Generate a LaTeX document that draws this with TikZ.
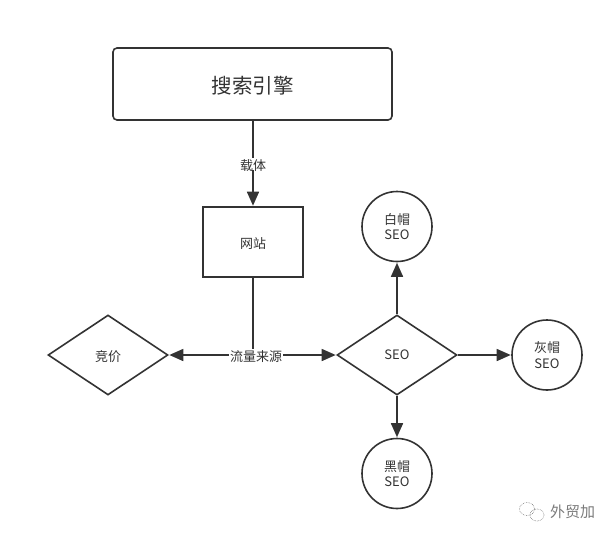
\documentclass[tikz,border=0pt]{standalone}
\usepackage{fontspec}
\setmainfont{Noto Sans CJK SC}
\usetikzlibrary{shapes.geometric,arrows.meta}
\definecolor{ink}{HTML}{333333}
\definecolor{wm}{HTML}{7A7A7A}
\newcommand{\lowered}[2][1.2pt]{\raisebox{-#1}[\height][\depth]{#2}}
\tikzset{
  every node/.style={text=ink,font=\fontsize{13}{15.5}\selectfont,align=center,inner sep=0pt},
  shapeline/.style={draw=ink,line width=1.6pt},
  dia/.style={shapeline,diamond,aspect=1.5,minimum width=120pt,minimum height=80pt},
  hat/.style={shapeline,circle,minimum size=70pt},
  conn/.style={draw=ink,line width=1.6pt},
  arr/.style={conn,-{Triangle[length=14pt,width=12pt]},shorten >=0.5pt},
  lab/.style={fill=white,inner xsep=1pt,inner ysep=0pt},
  wmtext/.style={text=wm,font=\fontsize{15}{17}\selectfont}
}
\begin{document}
\begin{tikzpicture}[x=1pt,y=-1pt]
\useasboundingbox (0,0) rectangle (614,539);
\node[shapeline,rectangle,rounded corners=4pt,minimum width=279pt,minimum height=72pt,font=\fontsize{20.5}{24}\selectfont] (engine) at (252.5,84) {\lowered[1.5pt]{搜索引擎}};
\node[shapeline,rectangle,minimum width=100pt,minimum height=70pt] (site) at (253,242) {\lowered[1.5pt]{网站}};
\node[dia] (bid) at (108,355) {\lowered{竞价}};
\node[dia] (seo) at (397,355) {SEO};
\node[hat] (white) at (397,226.5) {白帽\\SEO};
\node[hat] (gray) at (547,355) {灰帽\\SEO};
\node[hat] (black) at (397,473.5) {黑帽\\SEO};
\coordinate (junction) at (253,355);
\draw[arr] (engine.south -| site.north) -- node[lab,pos=.51] {\lowered{载体}} (site.north);
\draw[conn] (site.south) -- (junction);
\draw[arr] (junction) -- (bid.east);
\draw[arr] (junction) -- (seo.west);
\node[lab] (source) at (256,355) {\lowered{流量来源}};
\draw[arr] (seo.north) -- (white.south);
\draw[arr] (seo.east) -- (gray.west);
\draw[arr] (seo.south) -- (black.north);
\node[wmtext] (brand) at (572.5,512) {外贸加};
\draw[wm,densely dotted,line width=.6pt] (527,509) ellipse (7.5pt and 6.5pt);
\draw[wm,densely dotted,line width=.6pt] (537,515) ellipse (7pt and 6pt);
\end{tikzpicture}
\end{document}
